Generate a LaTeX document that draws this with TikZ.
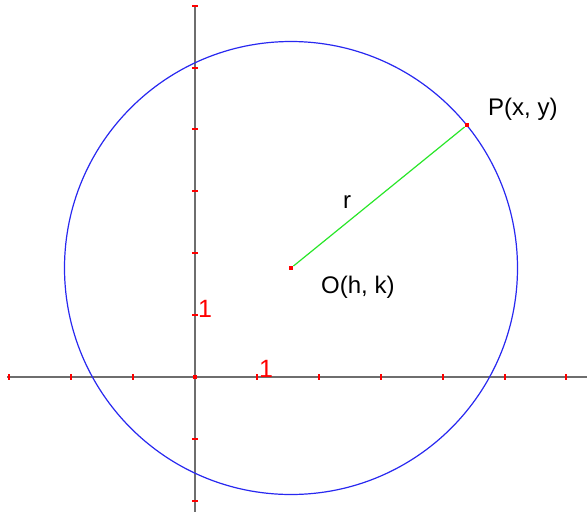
\documentclass[tikz,border=0pt]{standalone}
\usepackage{fontspec}
\setmainfont{Liberation Sans}
\definecolor{axisgray}{RGB}{110,110,110}
\definecolor{circblue}{RGB}{40,40,240}
\definecolor{radgreen}{RGB}{40,230,40}
\begin{document}
\begin{tikzpicture}[x=1pt,y=-1pt,
  axis/.style={draw=axisgray,line width=1.8pt},
  tickmark/.style={draw=red,line width=2pt},
  dotmark/.style={fill=red,minimum size=4.5pt,inner sep=0pt,draw=none,rectangle},
  lbl/.style={inner sep=0pt,font=\fontsize{24}{28}\selectfont},
  numlbl/.style={inner sep=0pt,text=red,font=\fontsize{25}{28}\selectfont}]
\useasboundingbox (0,0) rectangle (587,512);
% axes
\coordinate (xl) at (7,377);
\coordinate (xr) at (587,377);
\coordinate (yt) at (195,6);
\coordinate (yb) at (195,512);
\draw[axis] (xl) -- (xr);
\draw[axis] (yt) -- (yb);
% ticks
\foreach \i in {-3,-2,-1,1,2,3,4,5,6}{
  \draw[tickmark] ({195+61.9*\i},374) -- ({195+61.9*\i},380);
}
\foreach \j in {-2,-1,1,2,3,4,5,6}{
  \draw[tickmark] (192,{377-61.9*\j}) -- (198,{377-61.9*\j});
}
% circle
\node[dotmark] (O) at (291,268) {};
\node[dotmark] (P) at (467,125) {};
\node[dotmark] (orig) at (195,377) {};
\draw[circblue,line width=1.2pt] (O.center) circle (226.5);
\draw[radgreen,line width=1.2pt] (O) -- (P);
\node[dotmark] at (O.center) {};
\node[dotmark] at (P.center) {};
% labels
\node[lbl,anchor=west] (Plbl) at (488,109) {P(x, y)};
\node[lbl] (rlbl) at (347,202) {r};
\node[lbl,anchor=west] (Olbl) at (321,287) {O(h, k)};
\node[numlbl] (one y) at (205,309) {1};
\node[numlbl] (one x) at (266,369) {1};
\end{tikzpicture}
\end{document}
